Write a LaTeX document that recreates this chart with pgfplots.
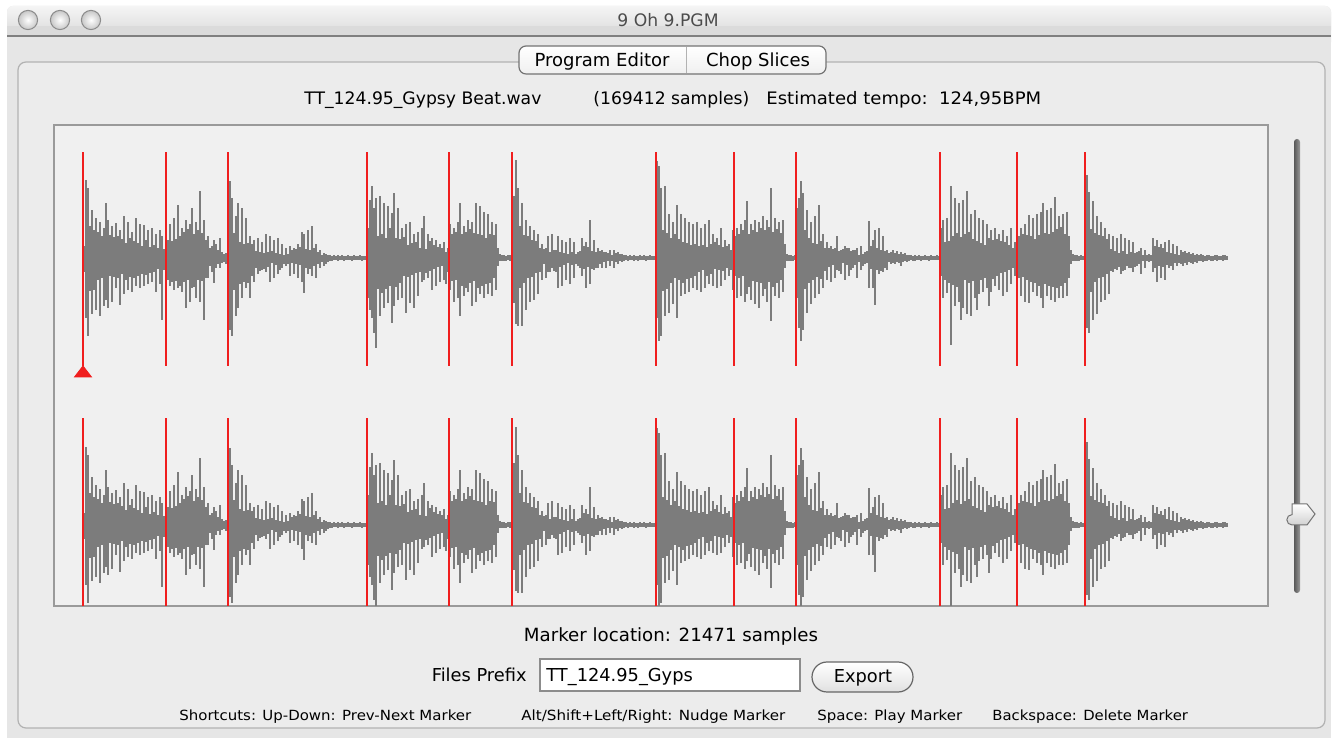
\documentclass[border=0pt]{standalone}
\usepackage{fontspec}
\setmainfont{DejaVu Sans}
\usepackage{pgfplots}
\usepackage{pgfplotstable}
\pgfplotsset{compat=1.18}

\definecolor{winbg}{HTML}{E6E6E6}
\definecolor{boxbg}{HTML}{ECECEC}
\definecolor{panelbg}{HTML}{F0F0F0}
\definecolor{wavegray}{HTML}{7C7C7C}
\definecolor{markred}{HTML}{F01E1E}
\definecolor{edge}{HTML}{9A9A9A}

% envelope of the waveform: x (screen px), peak above / below the centre (px)
\pgfplotstableread{
x U L
84 12 14
86 78 60
88 70 78
90 32 33
92 48 56
94 28 32
96 40 52
98 26 22
100 36 58
102 22 20
104 30 48
106 55 42
108 38 50
110 23 18
112 32 44
114 21 19
116 35 30
118 22 20
120 28 47
122 19 16
124 42 36
126 15 22
128 36 32
130 20 19
132 26 34
134 17 20
136 40 28
138 15 18
140 34 30
142 12 16
144 33 28
146 18 17
148 28 26
150 11 15
152 30 24
154 13 14
156 24 34
158 10 11
160 28 26
162 22 62
164 9 12
166 32 26
168 18 22
170 34 28
172 17 24
174 40 32
176 19 23
178 53 30
180 22 28
182 30 34
184 26 24
186 38 50
188 29 22
190 34 44
192 50 30
194 24 29
196 36 40
198 28 22
200 67 44
202 25 23
204 38 62
206 18 20
208 22 20
210 10 8
212 12 14
214 18 25
216 14 10
218 8 6
220 20 10
222 6 5
224 4 4
226 5 6
228 53 60
230 77 72
232 60 78
234 25 32
236 42 58
238 55 50
240 16 26
242 50 40
244 14 24
246 40 30
248 15 25
250 22 40
252 14 18
254 18 24
256 7 10
258 20 16
260 6 13
262 16 12
264 5 11
266 24 14
268 6 9
270 22 24
272 7 5
274 18 20
276 5 7
278 20 16
280 4 12
282 14 10
284 3 6
286 10 8
288 4 6
290 12 18
292 8 5
294 10 16
296 9 6
298 14 20
300 11 7
302 26 24
304 24 35
306 9 10
308 28 16
310 8 11
312 32 18
314 10 8
316 14 20
318 6 6
320 8 10
322 3 4
324 5 8
326 4 6
328 3 4
330 3 3
332 2 3
334 3 2
336 2 2
338 3 3
340 2 2
342 3 2
344 2 3
346 2 2
348 3 2
350 2 2
352 2 3
354 3 2
356 2 2
358 2 2
360 3 2
362 2 3
364 2 2
366 2 2
368 30 40
370 58 52
372 72 60
374 50 75
376 60 90
378 22 31
380 62 58
382 24 35
384 55 50
386 20 31
388 52 45
390 30 28
392 45 65
394 65 48
396 20 29
398 50 42
400 19 25
402 30 40
404 21 18
406 34 55
408 13 19
410 36 45
412 15 17
414 24 50
416 16 15
418 26 38
420 10 14
422 30 24
424 42 22
426 9 15
428 24 20
430 17 13
432 20 32
434 13 11
436 18 28
438 11 9
440 14 24
442 10 8
444 16 22
446 6 26
448 10 14
450 34 32
452 24 23
454 30 44
456 26 22
458 36 40
460 55 58
462 24 28
464 32 38
466 26 30
468 38 34
470 29 25
472 36 48
474 25 23
476 55 44
478 24 30
480 52 36
482 23 28
484 46 40
486 20 26
488 44 36
490 24 25
492 36 38
494 23 20
496 34 32
498 10 8
500 4 3
502 3 3
504 3 3
506 2 3
508 3 2
510 3 3
512 40 20
514 62 45
516 98 66
518 70 68
520 32 30
522 55 68
524 23 25
526 38 52
528 22 20
530 32 44
532 18 19
534 28 42
536 17 15
538 24 36
540 10 14
542 14 22
544 9 6
546 10 20
548 22 14
550 6 14
552 24 10
554 8 13
556 8 14
558 22 30
560 6 9
562 18 28
564 5 7
566 16 22
568 4 5
570 20 26
572 6 7
574 16 20
576 4 6
578 6 8
580 7 10
582 20 18
584 12 11
586 16 30
588 11 9
590 38 26
592 7 11
594 18 12
596 6 10
598 10 10
600 7 6
602 8 10
604 6 4
606 6 10
608 5 3
610 8 8
612 3 3
614 8 10
616 5 4
618 6 6
620 4 3
622 4 4
624 3 3
626 3 2
628 2 3
630 3 2
632 2 2
634 3 3
636 2 2
638 2 3
640 3 2
642 2 2
644 3 2
646 2 3
648 2 2
650 3 2
652 2 2
654 2 2
657 97 60
659 92 83
661 70 78
663 28 33
665 72 58
667 25 31
669 44 55
671 20 25
673 36 46
675 24 20
677 53 60
679 19 22
681 44 38
683 16 25
685 40 36
687 15 21
689 36 34
691 13 20
693 34 30
695 14 18
697 36 32
699 12 14
701 30 34
703 13 12
705 34 30
707 11 18
709 38 26
711 14 16
713 24 28
715 16 11
717 20 30
719 13 12
721 30 28
723 11 13
725 18 22
727 12 10
729 14 18
731 8 12
733 28 32
735 22 18
737 30 40
739 24 20
741 34 38
743 28 18
745 38 44
747 57 36
749 24 29
751 34 42
753 28 23
755 38 46
757 26 24
759 36 50
761 30 25
763 42 38
765 28 31
767 38 44
769 31 24
771 70 63
773 26 29
775 40 38
777 29 25
779 36 40
781 25 22
783 38 34
785 14 10
787 4 3
789 3 3
791 3 3
793 2 3
795 3 2
797 50 40
799 60 70
801 77 83
803 65 72
805 28 31
807 48 55
809 20 25
811 36 46
813 15 22
815 42 40
817 14 19
819 53 36
821 17 21
823 24 30
825 10 13
827 16 22
829 10 9
831 12 24
833 9 7
835 10 20
837 22 12
839 7 13
841 8 16
843 9 5
845 12 22
847 10 7
849 10 18
851 7 12
853 8 10
855 8 7
857 10 20
859 3 4
861 12 12
863 4 8
865 6 6
867 7 5
869 37 30
871 12 11
873 18 30
875 28 47
877 10 12
879 30 16
881 8 13
883 22 14
885 7 10
887 8 12
889 5 4
891 6 6
893 8 5
895 5 6
897 7 4
899 4 5
901 6 8
903 4 4
905 5 3
907 3 4
909 3 3
911 3 2
913 2 3
915 3 3
917 2 2
919 3 2
921 2 3
923 2 2
925 3 2
927 2 2
929 2 3
931 3 2
933 2 2
935 2 2
937 3 2
939 2 2
941 30 18
943 38 40
945 16 22
947 40 35
949 17 25
951 72 87
953 22 27
955 60 48
957 25 29
959 55 44
961 21 62
963 58 50
965 24 22
967 67 56
969 26 25
971 44 58
973 19 23
975 48 40
977 17 52
979 40 36
981 15 22
983 38 34
985 13 20
987 34 30
989 20 48
991 28 34
993 18 21
995 30 28
997 19 18
999 24 32
1001 17 15
1003 28 38
1005 16 14
1007 22 34
1009 13 12
1011 30 26
1013 10 10
1015 16 18
1017 30 28
1019 22 20
1021 30 38
1023 24 19
1025 34 44
1027 23 22
1029 43 45
1031 22 24
1033 40 34
1035 19 25
1037 44 38
1039 23 28
1041 46 40
1043 55 50
1045 25 26
1047 48 38
1049 24 28
1051 50 42
1053 26 29
1055 61 44
1057 29 30
1059 42 40
1061 31 28
1063 44 40
1065 24 25
1067 46 38
1069 22 20
1071 8 6
1073 4 3
1075 3 3
1077 3 3
1079 2 3
1081 3 2
1083 2 2
1085 50 60
1087 83 70
1089 66 75
1091 29 34
1093 57 62
1095 25 24
1097 42 56
1099 23 20
1101 36 44
1103 22 19
1105 30 42
1107 19 16
1109 24 36
1111 9 13
1113 22 14
1115 7 11
1117 20 12
1119 5 9
1121 24 16
1123 7 13
1125 20 12
1127 4 8
1129 18 10
1131 6 10
1133 16 14
1135 5 9
1137 6 8
1139 7 6
1141 10 16
1143 3 3
1145 8 10
1147 3 3
1149 4 4
1151 3 3
1153 20 14
1155 12 10
1157 18 24
1159 11 8
1161 14 20
1163 10 9
1165 16 22
1167 6 7
1169 18 10
1171 5 8
1173 14 12
1175 4 5
1177 12 8
1179 3 5
1181 8 6
1183 6 8
1185 7 5
1187 5 7
1189 6 4
1191 4 5
1193 5 6
1195 3 4
1197 4 5
1199 3 3
1201 4 3
1203 3 4
1205 2 3
1207 3 3
1209 3 2
1211 2 3
1213 2 3
1215 3 2
1217 3 3
1219 2 2
1221 2 2
1223 3 3
1225 3 2
1227 2 2
}\wave

% slice markers (screen px) with the centre of the line in each channel
\pgfplotstableread{
x top bot
83 479 226
166 479 226
228 479 226
367 479 226
449 479 226
512 479 226
656 479 226
734 479 226
796 479 226
940 479 226
1017 479 226
1085 479 226
}\markers

\begin{document}
\begin{tikzpicture}
% ---------- window chrome, one unit = one screen pixel ----------
\begin{axis}[
    at={(0,0)}, anchor=south west,
    width=668.5pt, height=369pt, scale only axis,
    xmin=0, xmax=1337, ymin=0, ymax=738,
    axis lines=none, ticks=none, clip=false,
]
\fill[white] (0,0) rectangle (1337,738);
\fill[winbg] (7,0) rectangle (1331,720);
\fill[winbg, rounded corners=3pt] (7,690) rectangle (1331,732);
% title bar
\shade[top color=white!92!gray, bottom color=winbg!95!black, rounded corners=3pt]
    (7,702) rectangle (1331,732);
\fill[winbg!95!black] (7,702) rectangle (1331,712);
\draw[black!50, line width=0.6pt] (7,702) -- (1331,702);
\path[draw=black!45, line width=0.5pt, inner color=white, outer color=black!22]
    (28,718) circle[radius=4.8pt];
\path[draw=black!45, line width=0.5pt, inner color=white, outer color=black!22]
    (60,718) circle[radius=4.8pt];
\path[draw=black!45, line width=0.5pt, inner color=white, outer color=black!22]
    (91,718) circle[radius=4.8pt];
\node[anchor=base, text=black!70, font=\fontsize{8.6}{10}\selectfont] at (668,711) {9 Oh 9.PGM};
% group box
\draw[black!30, fill=boxbg, rounded corners=4pt, line width=0.6pt] (18,10) rectangle (1325,676);
% tabs
\shade[draw=black!55, line width=0.6pt, top color=white, bottom color=black!6, rounded corners=3.5pt]
    (519,664) rectangle (826,692);
\draw[black!30, line width=0.5pt] (686,665) -- (686,691);
\node[anchor=base, font=\fontsize{9}{11}\selectfont] at (602,671) {Program Editor};
\node[anchor=base, font=\fontsize{9}{11}\selectfont] at (758,671) {Chop Slices};
% header line
\node[anchor=base west, inner sep=0pt, font=\fontsize{8.6}{10}\selectfont] at (304,633) {TT\_124.95\_Gypsy Beat.wav};
\node[anchor=base west, inner sep=0pt, font=\fontsize{8.6}{10}\selectfont] at (593,633) {(169412 samples)};
\node[anchor=base west, inner sep=0pt, font=\fontsize{8.6}{10}\selectfont] at (766,633) {\scalebox{1.05}[1]{Estimated tempo:\ \ 124,95BPM}};
% vertical slider
\shade[left color=black!65, right color=black!40, rounded corners=1.5pt] (1294,145) rectangle (1300,599);
\path[draw=black!55, line width=0.5pt, top color=white, bottom color=black!18]
    (1292,234) -- (1307,234) -- (1315,224) -- (1307,213) -- (1292,213)
    arc[start angle=270, end angle=90, radius=2.6pt] -- cycle;
% bottom controls
\node[anchor=base, font=\fontsize{9.1}{11}\selectfont] at (671,96) {Marker location: 21471 samples};
\node[anchor=base east, inner sep=0pt, font=\fontsize{8.9}{11}\selectfont] at (527,56) {Files Prefix};
\draw[black!45, fill=white, line width=0.6pt] (540,47) rectangle (800,79);
\node[anchor=base west, inner sep=0pt, font=\fontsize{8.9}{11}\selectfont] at (546,56) {TT\_124.95\_Gyps};
\shade[draw=black!60, line width=0.6pt, top color=white, bottom color=black!12, rounded corners=7.5pt]
    (812,46) rectangle (913,76);
\node[anchor=base, font=\fontsize{8.9}{11}\selectfont] at (863,55) {Export};
\node[anchor=base west, inner sep=0pt, font=\fontsize{7}{8}\selectfont] at (179,18) {\scalebox{1.07}[1]{Shortcuts: Up-Down: Prev-Next Marker}};
\node[anchor=base west, inner sep=0pt, font=\fontsize{7}{8}\selectfont] at (521,18) {\scalebox{1.08}[1]{Alt/Shift+Left/Right: Nudge Marker}};
\node[anchor=base west, inner sep=0pt, font=\fontsize{7}{8}\selectfont] at (817,18) {\scalebox{1.07}[1]{Space: Play Marker}};
\node[anchor=base west, inner sep=0pt, font=\fontsize{7}{8}\selectfont] at (992,18) {\scalebox{1.06}[1]{Backspace: Delete Marker}};
\end{axis}

% ---------- waveform panel ----------
\begin{axis}[
    at={(27pt,66pt)}, anchor=south west,
    width=607pt, height=240.5pt, scale only axis,
    xmin=54, xmax=1268, ymin=132, ymax=613,
    xtick=\empty, ytick=\empty,
    axis line style={draw=edge, line width=0.7pt},
    axis background/.style={fill=panelbg},
]
% zero lines
\addplot[black!75, line width=0.4pt, dash pattern=on 0.6pt off 2pt, forget plot]
    coordinates {(84,480) (1227,480)};
\addplot[black!75, line width=0.4pt, dash pattern=on 0.6pt off 2pt, forget plot]
    coordinates {(84,213) (1227,213)};
% left channel
\addplot[draw=none, forget plot,
    error bars/.cd, y dir=both, y explicit, error mark=none,
    error bar style={draw=wavegray, line width=0.6pt}]
    table[x=x, y expr=480, y error plus=U, y error minus=L] {\wave};
% right channel
\addplot[draw=none, forget plot,
    error bars/.cd, y dir=both, y explicit, error mark=none,
    error bar style={draw=wavegray, line width=0.6pt}]
    table[x=x, y expr=213, y error plus=U, y error minus=L] {\wave};
% slice markers
\addplot[draw=none, forget plot,
    error bars/.cd, y dir=both, y fixed=107, error mark=none,
    error bar style={draw=markred, line width=1pt}]
    table[x=x, y=top] {\markers};
\addplot[draw=none, forget plot,
    error bars/.cd, y dir=both, y fixed=94, error mark=none,
    error bar style={draw=markred, line width=1pt}]
    table[x=x, y=bot] {\markers};
% selected marker
\addplot[only marks, mark=triangle*, mark size=4.9pt,
    mark options={fill=markred, draw=markred, yscale=0.75}]
    coordinates {(83,364.7)};
\end{axis}
\end{tikzpicture}
\end{document}
